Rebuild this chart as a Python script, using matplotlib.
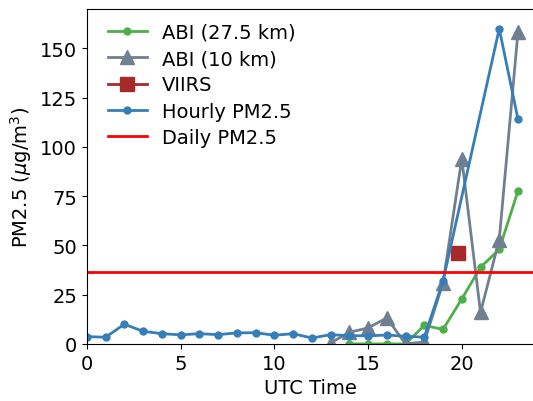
import matplotlib.pyplot as plt
import numpy as np

# hourly surface PM2.5 (no obs at 20 and 21 UTC)
hourly_hours = [0, 1, 2, 3, 4, 5, 6, 7, 8, 9, 10, 11, 12, 13, 14, 15, 16, 17, 18, 19, 22, 23]
hourly_pm = [3.7, 3.4, 10.0, 6.4, 5.2, 4.6, 5.2, 4.7, 5.6, 5.7, 4.4, 5.2, 3.0, 4.7,
             4.2, 4.1, 4.5, 3.9, 3.4, 32.0, 160.0, 114.0]

# ABI retrievals
abi27_hours = [14, 15, 16, 17, 18, 19, 20, 21, 22, 23]
abi27_pm = [0.0, 0.0, 0.0, 0.0, 9.4, 7.4, 22.8, 38.9, 48.0, 77.7]

abi10_hours = [13, 14, 15, 16, 17, 18, 19, 20, 21, 22, 23]
abi10_pm = [0.5, 5.9, 8.1, 13.2, 0.0, 1.0, 31.0, 94.0, 16.0, 53.0, 158.5]

viirs_hour = [19.8]
viirs_pm = [46.0]

daily_pm = 36.3

fig = plt.figure(figsize=(5.33, 4.02), dpi=100)
ax = fig.add_axes([0.163, 0.142, 0.837, 0.833])

ax.plot(abi27_hours, abi27_pm, color='#4daf4a', marker='o', markersize=5,
        linewidth=2, label='ABI (27.5 km)')
ax.plot(abi10_hours, abi10_pm, color='slategray', marker='^', markersize=10,
        linewidth=2, label='ABI (10 km)')
ax.plot(viirs_hour, viirs_pm, color='#a52a2a', marker='s', markersize=10,
        linewidth=2, label='VIIRS')
ax.plot(hourly_hours, hourly_pm, color='#377eb8', marker='o', markersize=5,
        linewidth=2, label='Hourly PM2.5')
ax.axhline(daily_pm, color='red', linewidth=2, label='Daily PM2.5')

ax.set_xlim(0, 23.8)
ax.set_ylim(0, 170)
ax.set_xticks([0, 5, 10, 15, 20])
ax.set_yticks([0, 25, 50, 75, 100, 125, 150])
ax.spines['right'].set_visible(False)
ax.tick_params(labelsize=14)
ax.set_xlabel('UTC Time', fontsize=14)
ax.set_ylabel(r'PM2.5 ($\mu$g/m$^3$)', fontsize=14)
ax.legend(loc='upper left', bbox_to_anchor=(0.016, 1.0), frameon=False,
          fontsize=14, labelspacing=0.38, borderaxespad=0.3)

fig.savefig('out.png', dpi=100)
